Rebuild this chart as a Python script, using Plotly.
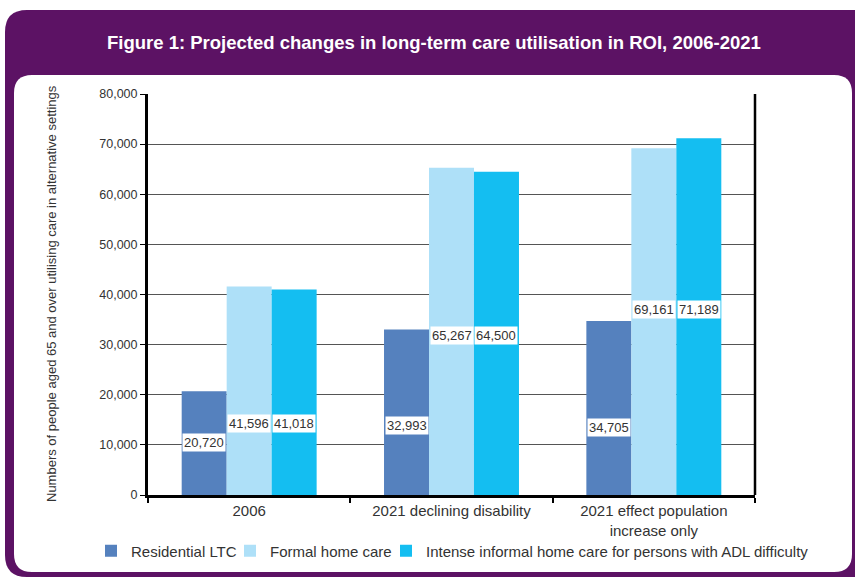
import plotly.graph_objects as go

categories = ["2006", "2021 declining disability", "2021 effect population<br>increase only"]
series_names = ["Residential LTC", "Formal home care",
                "Intense informal home care for persons with ADL difficulty"]
residential = [20720, 32993, 34705]
formal = [41596, 65267, 69161]
intense = [41018, 64500, 71189]
y_ticks = [0, 10000, 20000, 30000, 40000, 50000, 60000, 70000, 80000]
title_text = "Figure 1: Projected changes in long-term care utilisation in ROI, 2006-2021"
y_title = "Numbers of people aged 65 and over utilising care in alternative settings"

colors = ["#5581BE", "#AEE0F8", "#14BEF1"]
# label vertical placement (data units) as in the reference
label_y = [[10400, 13770, 13430], [14300, 31900, 37050], [14300, 31900, 37100]]

W, H = 855, 578
L, R, T, B = 148, 755, 94, 495
FONT = "Arial, Liberation Sans, sans-serif"

def px(x):
    return (x - L) / (R - L)

def py(y):
    return (B - y) / (B - T)

def rrect(x0, y0, x1, y1, r):
    p = [
        f"M{px(x0 + r)},{py(y0)}",
        f"L{px(x1 - r)},{py(y0)}",
        f"Q{px(x1)},{py(y0)} {px(x1)},{py(y0 + r)}",
        f"L{px(x1)},{py(y1 - r)}",
        f"Q{px(x1)},{py(y1)} {px(x1 - r)},{py(y1)}",
        f"L{px(x0 + r)},{py(y1)}",
        f"Q{px(x0)},{py(y1)} {px(x0)},{py(y1 - r)}",
        f"L{px(x0)},{py(y0 + r)}",
        f"Q{px(x0)},{py(y0)} {px(x0 + r)},{py(y0)}",
        "Z",
    ]
    return " ".join(p)

legend_ids = ["legend", "legend2", "legend3"]
legend_px = [91, 230, 386]

fig = go.Figure()
for name, vals, c, lg in zip(series_names, [residential, formal, intense], colors, legend_ids):
    fig.add_trace(go.Bar(name=name, x=categories, y=vals, legend=lg,
                         marker=dict(color=c, line=dict(width=0)), hoverinfo="y"))

bar_w = (1 - 0.333) / 3
annotations = []
for s, vals in enumerate([residential, formal, intense]):
    for i, v in enumerate(vals):
        annotations.append(dict(
            x=i + (s - 1) * bar_w, y=label_y[s][i], xref="x", yref="y",
            text=f"{v:,}", showarrow=False, bgcolor="white", borderpad=1,
            font=dict(family=FONT, size=13, color="#333333"),
        ))

annotations.append(dict(
    x=px(434), y=py(42), xref="paper", yref="paper", text=f"<b>{title_text}</b>",
    showarrow=False, xanchor="center", yanchor="middle",
    font=dict(family=FONT, size=18.5, color="white"),
))
annotations.append(dict(
    x=px(51), y=py(294), xref="paper", yref="paper", text=y_title, textangle=-90,
    showarrow=False, xanchor="center", yanchor="middle",
    font=dict(family=FONT, size=13, color="#333333"),
))

shapes = [
    dict(type="path", xref="paper", yref="paper", layer="below",
         path=rrect(5, 10, 880, 577, 22), fillcolor="#5C1264", line=dict(width=0)),
    dict(type="path", xref="paper", yref="paper", layer="below",
         path=rrect(14, 75, 852, 572, 18), fillcolor="white", line=dict(width=0)),
    dict(type="line", xref="paper", yref="paper", x0=1, x1=1, y0=0, y1=1,
         line=dict(color="black", width=2.5)),
]

legend_style = dict(orientation="h", xanchor="left", y=py(551), yanchor="middle",
                    font=dict(size=15, color="#333333"), bgcolor="rgba(0,0,0,0)",
                    itemwidth=30)

fig.update_layout(
    width=W, height=H,
    margin=dict(l=L, r=W - R, t=T, b=H - B, autoexpand=False),
    paper_bgcolor="white", plot_bgcolor="rgba(0,0,0,0)",
    barmode="group", bargap=0.333, bargroupgap=0,
    font=dict(family=FONT, size=15, color="#333333"),
    showlegend=True,
    legend=dict(x=px(legend_px[0]), **legend_style),
    legend2=dict(x=px(legend_px[1]), **legend_style),
    legend3=dict(x=px(legend_px[2]), **legend_style),
    annotations=annotations, shapes=shapes,
    xaxis=dict(showline=True, linecolor="black", linewidth=3, ticks="outside",
               tickson="boundaries", ticklen=5, tickwidth=2, tickcolor="black",
               tickfont=dict(size=15, color="#333333"), showgrid=False, zeroline=False,
               automargin=False),
    yaxis=dict(range=[0, 80000], tickvals=y_ticks, tickformat=",", showline=True,
               linecolor="black", linewidth=3, ticks="outside", ticklen=5, tickcolor="black",
               tickfont=dict(size=12.5, color="#333333"), showgrid=True, gridcolor="#555555",
               gridwidth=1, zeroline=False, automargin=False),
)

fig.write_html("out.html", config={"displayModeBar": False},
               post_script="document.body.style.margin='0';document.body.style.padding='0';")
